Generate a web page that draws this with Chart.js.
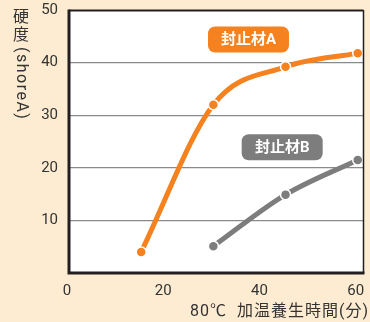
<!DOCTYPE html>
<html lang="ja">
<head>
  <meta charset="UTF-8" />
  <title>硬度</title>
  <script src="https://cdn.jsdelivr.net/npm/chart.js"></script>
  <style>
    html, body { margin: 0; padding: 0; background: #fdecd1; }
    #wrap { width: 370px; height: 322px; }
  </style>
</head>
<body>
  <div id="wrap"><canvas id="chart"></canvas></div>
  <script>
    // data
    const minutesA = [15, 30, 45, 60];
    const hardnessA = [4.0, 32.0, 39.2, 41.8];
    const minutesB = [30, 45, 60];
    const hardnessB = [5.1, 14.9, 21.5];
    const xTicks = [0, 20, 40, 60];
    const yTicks = [10, 20, 30, 40, 50];

    const orange = '#f5821f';
    const gray = '#7d7d7e';
    const cream = '#fdecd1';
    const font = 'Roboto, "Noto Sans CJK JP", sans-serif';

    // series labels, anchored in data units
    const tags = [
      { text: '封止材A', x: 37.3, y: 44.4, color: orange },
      { text: '封止材B', x: 44.3, y: 23.9, color: gray }
    ];

    const toPoints = (xs, ys) => xs.map((x, i) => ({ x: x, y: ys[i] }));

    function roundRect(ctx, x, y, w, h, r) {
      ctx.beginPath();
      ctx.moveTo(x + r, y);
      ctx.arcTo(x + w, y, x + w, y + h, r);
      ctx.arcTo(x + w, y + h, x, y + h, r);
      ctx.arcTo(x, y + h, x, y, r);
      ctx.arcTo(x, y, x + w, y, r);
      ctx.closePath();
    }

    const decor = {
      id: 'decor',
      beforeDraw(chart) {
        const { ctx, chartArea: a } = chart;
        ctx.save();
        ctx.fillStyle = cream;
        ctx.fillRect(0, 0, chart.width, chart.height);
        ctx.fillStyle = '#ffffff';
        ctx.fillRect(a.left, a.top, a.right - a.left, a.bottom - a.top);
        ctx.restore();
      },
      afterDatasetsDraw(chart) {
        const { ctx, chartArea: a, scales } = chart;
        ctx.save();
        // box round the plot
        ctx.strokeStyle = '#231f20';
        ctx.lineWidth = 1.5;
        ctx.beginPath();
        ctx.moveTo(a.right, a.top);
        ctx.lineTo(a.right, a.bottom);
        ctx.stroke();
        ctx.lineWidth = 2;
        ctx.beginPath();
        ctx.moveTo(a.left, a.top + 0.5);
        ctx.lineTo(a.right, a.top + 0.5);
        ctx.stroke();
        ctx.lineWidth = 3;
        ctx.beginPath();
        ctx.moveTo(a.left, a.top - 0.5);
        ctx.lineTo(a.left, a.bottom);
        ctx.lineTo(a.right + 1, a.bottom);
        ctx.stroke();

        // series tags
        ctx.font = 'bold 15px ' + font;
        ctx.textAlign = 'center';
        ctx.textBaseline = 'middle';
        tags.forEach(t => {
          const cx = scales.x.getPixelForValue(t.x);
          const cy = scales.y.getPixelForValue(t.y);
          const w = 81, h = 26;
          ctx.fillStyle = t.color;
          roundRect(ctx, cx - w / 2, cy - h / 2, w, h, 7);
          ctx.fill();
          ctx.fillStyle = '#ffffff';
          ctx.fillText(t.text, cx, cy + 1);
        });

        // y title, written top to bottom
        ctx.fillStyle = '#333333';
        ctx.font = '16px ' + font;
        ctx.textAlign = 'center';
        ctx.textBaseline = 'top';
        ctx.fillText('硬', 21, 10);
        ctx.fillText('度', 21, 28);
        ctx.translate(21, 47);
        ctx.rotate(Math.PI / 2);
        ctx.textAlign = 'left';
        ctx.textBaseline = 'middle';
        ctx.letterSpacing = '1.5px';
        ctx.fillText('(shoreA)', 0, 0);
        ctx.restore();

        // x title
        ctx.save();
        ctx.fillStyle = '#333333';
        ctx.font = '16px ' + font;
        ctx.textAlign = 'right';
        ctx.textBaseline = 'middle';
        ctx.letterSpacing = '1px';
        ctx.fillText('80℃  加温養生時間(分)', 369, 312);
        ctx.restore();
      }
    };

    new Chart(document.getElementById('chart'), {
      type: 'line',
      data: {
        datasets: [
          {
            label: '封止材A',
            data: toPoints(minutesA, hardnessA),
            borderColor: orange,
            backgroundColor: orange,
            borderWidth: 5,
            cubicInterpolationMode: 'monotone',
            pointRadius: 5,
            pointBorderColor: '#ffffff',
            pointBorderWidth: 1.5,
            pointBackgroundColor: orange
          },
          {
            label: '封止材B',
            data: toPoints(minutesB, hardnessB),
            borderColor: gray,
            backgroundColor: gray,
            borderWidth: 5,
            cubicInterpolationMode: 'monotone',
            pointRadius: 5,
            pointBorderColor: '#ffffff',
            pointBorderWidth: 1.5,
            pointBackgroundColor: gray
          }
        ]
      },
      options: {
        responsive: true,
        maintainAspectRatio: false,
        animation: false,
        layout: { padding: { top: 10, right: 4, left: 0, bottom: 0 } },
        plugins: {
          legend: { display: false },
          tooltip: { enabled: false }
        },
        scales: {
          x: {
            type: 'linear',
            min: 0,
            max: 61.2,
            afterBuildTicks: s => { s.ticks = xTicks.map(v => ({ value: v })); },
            afterFit: s => { s.height = 49; s.paddingLeft = 0; s.paddingRight = 0; },
            grid: { display: false, drawTicks: false },
            border: { display: false },
            ticks: {
              color: '#333333',
              font: { family: font, size: 15 },
              padding: 9,
              labelOffset: -2,
              maxRotation: 0
            }
          },
          y: {
            min: 0,
            max: 50,
            afterBuildTicks: s => { s.ticks = [0].concat(yTicks).map(v => ({ value: v })); },
            afterFit: s => { s.width = 69; s.paddingTop = 0; s.paddingBottom = 0; },
            grid: {
              color: ctx => (ctx.tick && ctx.tick.value > 0 && ctx.tick.value < 50) ? '#8a8a8a' : 'rgba(0,0,0,0)',
              lineWidth: 1.2,
              drawTicks: false
            },
            border: { display: false },
            ticks: {
              color: '#333333',
              font: { family: font, size: 15 },
              padding: 11,
              callback: v => v === 0 ? '' : v
            }
          }
        }
      },
      plugins: [decor]
    });
  </script>
</body>
</html>
